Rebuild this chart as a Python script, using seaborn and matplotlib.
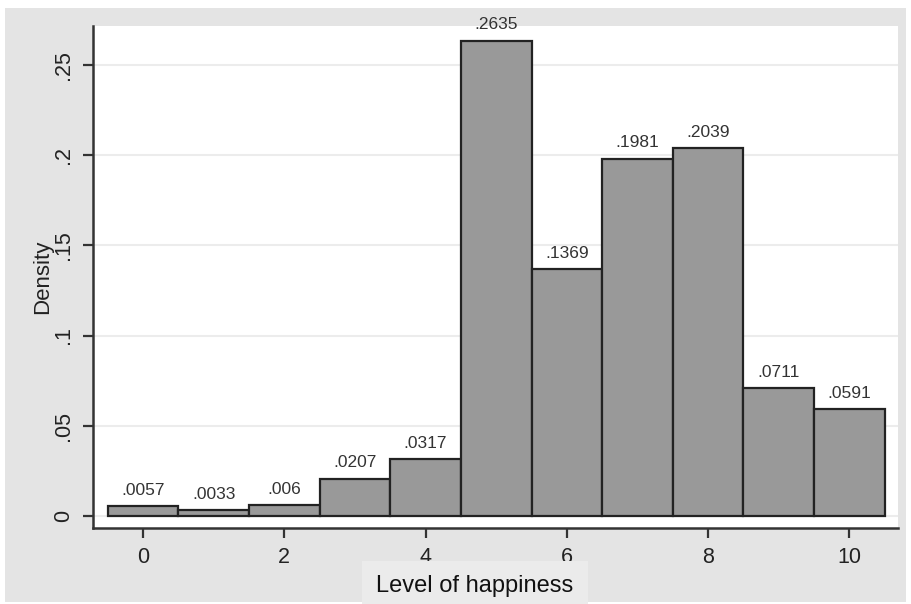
import numpy as np
import matplotlib.pyplot as plt
import seaborn as sns
from matplotlib.patches import Rectangle

# Happiness levels and their densities
levels = [0, 1, 2, 3, 4, 5, 6, 7, 8, 9, 10]
density = [0.0057, 0.0033, 0.006, 0.0207, 0.0317, 0.2635,
           0.1369, 0.1981, 0.2039, 0.0711, 0.0591]
ytick_vals = [0, 0.05, 0.1, 0.15, 0.2, 0.25]
ytick_labels = ["0", ".05", ".1", ".15", ".2", ".25"]
xtick_vals = [0, 2, 4, 6, 8, 10]

sns.set_theme(style="white")
plt.rcParams["font.family"] = ["Liberation Sans", "DejaVu Sans"]

fig = plt.figure(figsize=(9.12, 6.04), dpi=100, facecolor="white")
# Stata-like gray background behind everything
fig.patches.append(Rectangle((5 / 912, 2 / 604), 901 / 912, 594 / 604,
                             transform=fig.transFigure, facecolor="#e4e4e4",
                             edgecolor="none", zorder=-5))
ax = fig.add_axes([93 / 912, 76 / 604, 805 / 912, 502 / 604])
ax.set_facecolor("white")

sns.histplot(x=levels, weights=density, discrete=True, stat="count",
             color="#999999", edgecolor="#222222", linewidth=1.6, alpha=1,
             ax=ax, zorder=3)

# value labels, Stata style (no leading zero)
for x, v in zip(levels, density):
    lab = f"{v:.4g}".lstrip("0")
    ax.text(x, v + 0.0045, lab, ha="center", va="bottom",
            fontsize=12.5, color="#333333", zorder=4)

ax.set_xlim(-0.71, 10.69)
ax.set_ylim(-0.0067, 0.2716)
ax.set_yticks(ytick_vals)
ax.set_yticklabels(ytick_labels, rotation=90, va="center")
ax.set_xticks(xtick_vals)
ax.tick_params(axis="both", direction="out", length=7.5, width=1.6,
               color="#333333", labelsize=15.5, labelcolor="#222222", pad=6,
               left=True, bottom=True)
ax.grid(axis="y", color="#ececec", linewidth=1.5, zorder=0)
ax.grid(axis="x", visible=False)
ax.set_axisbelow(True)

for side in ["top", "right"]:
    ax.spines[side].set_visible(False)
for side in ["left", "bottom"]:
    ax.spines[side].set_color("#333333")
    ax.spines[side].set_linewidth(1.8)

ax.set_ylabel("Density", fontsize=16, color="#222222")
ax.yaxis.set_label_coords(-0.05, 0.5)
ax.set_xlabel("Level of happiness", fontsize=17, color="#111111",
              bbox=dict(facecolor="#ebebeb", edgecolor="none", pad=10))
ax.xaxis.set_label_coords((475 - 93) / 805, -0.093)

fig.savefig("out.png", dpi=100, facecolor=fig.get_facecolor())
